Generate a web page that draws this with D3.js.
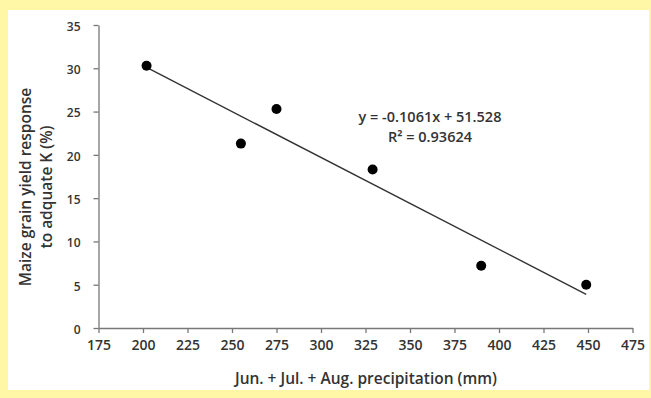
<!DOCTYPE html>
<html>
<head>
<meta charset="utf-8">
<script src="https://cdn.jsdelivr.net/npm/d3@7"></script>
<style>
  body { margin: 0; background: #fff7a6; }
  svg { display: block; }
  text { font-family: "Open Sans", Lato, sans-serif; font-weight: 600; fill: #333; }
</style>
</head>
<body>
<svg id="chart" width="651" height="398"></svg>
<script>
// precipitation (mm) and yield response (%)
var precip = [202, 255, 275, 329, 390, 449];
var response = [30.3, 21.3, 25.3, 18.3, 7.2, 5.0];
var xTicks = [175, 200, 225, 250, 275, 300, 325, 350, 375, 400, 425, 450, 475];
var yTicks = [0, 5, 10, 15, 20, 25, 30, 35];
// linear fit printed on the chart
var slope = -0.1061, intercept = 51.528;
var eqLines = ["y = -0.1061x + 51.528", "R² = 0.93624"];

var svg = d3.select("#chart");

// white panel inside the yellow frame
svg.append("rect")
  .attr("x", 8).attr("y", 10)
  .attr("width", 641).attr("height", 380)
  .attr("fill", "#fff");

var x = d3.scaleLinear().domain([175, 475]).range([98.5, 632.5]);
var y = d3.scaleLinear().domain([0, 35]).range([328, 25]);

var xAxis = svg.append("g")
  .attr("transform", "translate(0,328)")
  .call(d3.axisBottom(x).tickValues(xTicks).tickSize(5).tickSizeOuter(0).tickPadding(7));
xAxis.selectAll("text").style("font-size", "14px").attr("fill", "#333");

var yAxis = svg.append("g")
  .attr("transform", "translate(98.5,0)")
  .call(d3.axisLeft(y).tickValues(yTicks).tickSize(5).tickSizeOuter(0).tickPadding(13));
yAxis.selectAll("text").style("font-size", "12px").attr("fill", "#333").attr("dy", "0.45em");

svg.selectAll(".domain, .tick line").attr("stroke", "#777").attr("stroke-width", 1.3);

// trend line over the data range
var xMin = d3.min(precip), xMax = d3.max(precip);
svg.append("line")
  .attr("x1", x(xMin)).attr("y1", y(slope * xMin + intercept))
  .attr("x2", x(xMax)).attr("y2", y(slope * xMax + intercept))
  .attr("stroke", "#333").attr("stroke-width", 1.4);

svg.selectAll(".pt")
  .data(precip)
  .enter().append("circle")
  .attr("class", "pt")
  .attr("cx", function(d) { return x(d); })
  .attr("cy", function(d, i) { return y(response[i]); })
  .attr("r", 5)
  .attr("fill", "#000");

svg.selectAll(".eq")
  .data(eqLines)
  .enter().append("text")
  .attr("class", "eq")
  .attr("x", 430)
  .attr("y", function(d, i) { return 121.5 + i * 20; })
  .attr("text-anchor", "middle")
  .style("font-size", "14.5px")
  .text(function(d) { return d; });

svg.append("text")
  .attr("x", 366).attr("y", 384)
  .attr("text-anchor", "middle")
  .style("font-size", "15.5px")
  .text("Jun. + Jul. + Aug. precipitation (mm)");

var yTitle = svg.append("text")
  .attr("transform", "translate(30.5,187) rotate(-90)")
  .attr("text-anchor", "middle")
  .style("font-size", "15.5px");
yTitle.append("tspan").attr("x", 0).attr("dy", 0).text("Maize grain yield response");
yTitle.append("tspan").attr("x", 0).attr("dy", 21).text("to adquate K (%)");
</script>
</body>
</html>
